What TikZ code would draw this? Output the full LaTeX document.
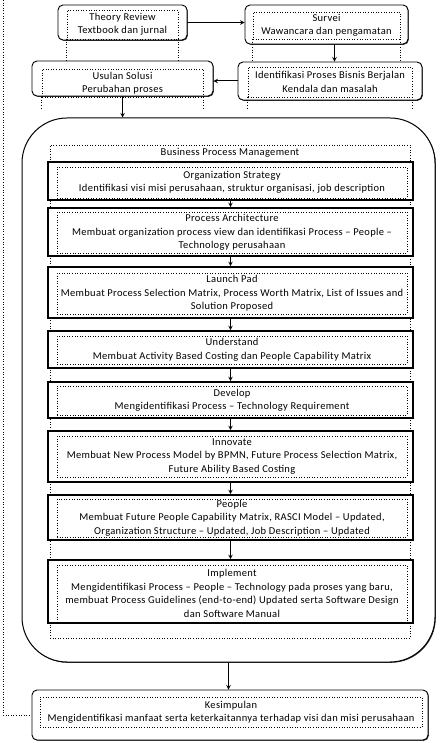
\documentclass[tikz,border=0pt]{standalone}
\usepackage{fontspec}
\setmainfont{Carlito}[LetterSpace=3]
\usetikzlibrary{calc,shadows}

\begin{document}
\begin{tikzpicture}[>=stealth, x=1pt, y=-1pt,
        font=\fontsize{10.5}{13.5}\selectfont,
        kotak/.style={draw, fill=white, rounded corners=5pt, line width=0.9pt, inner sep=0pt,
            drop shadow={shadow xshift=0.8pt, shadow yshift=-0.8pt, fill=black!80, opacity=1}},
        titik/.style={draw, dotted, line width=0.6pt, align=center, inner sep=1pt},
        tahap/.style={draw, fill=white, line width=1.6pt, minimum width=365pt, inner sep=0pt},
        panah/.style={->, line width=1pt}]
        \useasboundingbox (0,0) rectangle (442,743);

        % Baris atas
        \node[kotak, minimum width=129pt, minimum height=35pt] (trOut) at (122.5,22.5) {};
        \node[titik, minimum width=111pt, minimum height=29pt] (trIn) at (122.5,24.5) {Theory Review\\Textbook dan jurnal};
        \node[kotak, minimum width=163pt, minimum height=39pt] (svOut) at (326.5,24.5) {};
        \node[titik, minimum width=147pt, minimum height=27pt] (svIn) at (326.5,25.5) {Survei\\Wawancara dan pengamatan};
        \node[kotak, minimum width=184pt, minimum height=38pt] (idOut) at (330,81) {};
        \node[titik, minimum width=164pt, minimum height=30pt] (idIn) at (330,82) {Identifikasi Proses Bisnis Berjalan\\Kendala dan masalah};
        \node[kotak, minimum width=181pt, minimum height=35pt] (usOut) at (122.5,78.5) {};
        \node[titik, minimum width=161pt, minimum height=28pt] (usIn) at (122.5,83) {Usulan Solusi\\Perubahan proses};

        % Garis titik turun dari kotak dalam
        \draw[dotted, line width=0.6pt] (trIn.south west) -- ++(0,23);
        \draw[dotted, line width=0.6pt] (trIn.south east) -- ++(0,23);
        \draw[dotted, line width=0.6pt] (svIn.south west) -- ++(0,23);
        \draw[dotted, line width=0.6pt] (svIn.south east) -- ++(0,23);
        \draw[dotted, line width=0.6pt] (idIn.south west) -- ++(0,11);
        \draw[dotted, line width=0.6pt] (idIn.south east) -- ++(0,11);
        \draw[dotted, line width=0.6pt] (usIn.south west) -- ++(0,11);
        \draw[dotted, line width=0.6pt] (usIn.south east) -- ++(0,11);

        % Business Process Management
        \node[kotak, rounded corners=45pt, line width=1pt, minimum width=413pt, minimum height=544pt] (bpm) at (228.5,390) {};
        \node[titik, minimum width=360pt, minimum height=493pt] (bpmIn) at (230,391.5) {};
        \node (bpmJudul) at (230,153) {Business Process Management};

        % Tahapan
        \node[tahap, minimum height=38pt] (s1) at (230.5,181) {};
        \node[titik, minimum width=350pt, minimum height=31pt] (s1t) at (232,182.5)
            {Organization Strategy\\Identifikasi visi misi perusahaan, struktur organisasi, job description};
        \node[tahap, minimum height=48pt] (s2) at (230.5,232) {};
        \node[titik, minimum width=350pt, minimum height=41pt] (s2t) at (232,232.5)
            {Process Architecture\\Membuat organization process view dan identifikasi Process -- People --\\Technology perusahaan};
        \node[tahap, minimum height=51pt] (s3) at (230.5,292.5) {};
        \node[titik, minimum width=350pt, minimum height=41pt] (s3t) at (232,293.5)
            {Launch Pad\\Membuat Process Selection Matrix, Process Worth Matrix, List of Issues and\\Solution Proposed};
        \node[tahap, minimum height=37pt] (s4) at (230.5,349.5) {};
        \node[titik, minimum width=350pt, minimum height=28pt] (s4t) at (232,350)
            {Understand\\Membuat Activity Based Costing dan People Capability Matrix};
        \node[tahap, minimum height=36pt] (s5) at (230.5,400) {};
        \node[titik, minimum width=350pt, minimum height=29pt] (s5t) at (232,400.5)
            {Develop\\Mengidentifikasi Process -- Technology Requirement};
        \node[tahap, minimum height=51pt] (s6) at (230.5,456.5) {};
        \node[titik, minimum width=350pt, minimum height=41pt] (s6t) at (232,456.5)
            {Innovate\\Membuat New Process Model by BPMN, Future Process Selection Matrix,\\Future Ability Based Costing};
        \node[tahap, minimum height=45pt] (s7) at (230.5,517.5) {};
        \node[titik, minimum width=350pt, minimum height=38pt] (s7t) at (232,518)
            {People\\Membuat Future People Capability Matrix, RASCI Model -- Updated,\\Organization Structure -- Updated, Job Description -- Updated};
        \node[tahap, minimum height=63pt] (s8) at (230.5,591.5) {};
        \node[titik, minimum width=350pt, minimum height=57pt] (s8t) at (232,593.5)
            {Implement\\Mengidentifikasi Process -- People -- Technology pada proses yang baru,\\membuat Process Guidelines (end-to-end) Updated serta Software Design\\dan Software Manual};

        % Kesimpulan
        \node[kotak, minimum width=396pt, minimum height=50pt] (kesOut) at (230,715) {};
        \node[titik, minimum width=382pt, minimum height=30pt] (kesIn) at (231,712)
            {Kesimpulan\\Mengidentifikasi manfaat serta keterkaitannya terhadap visi dan misi perusahaan};

        % Panah
        \coordinate (svBawah) at ($(svOut.south)+(8,0)$);
        \draw[panah] (trOut.east) -- (trOut.east -| svOut.west);
        \draw[panah] (svBawah) -- (svBawah |- idOut.north);
        \draw[panah] (idOut.west) -- (idOut.west -| usOut.east);
        \draw[panah] (usOut.south) -- (usOut.south |- bpm.north);
        \draw[panah] (s1) -- (s2);
        \draw[panah] (s2) -- (s3);
        \draw[panah] (s3) -- (s4);
        \draw[panah] (s4) -- (s5);
        \draw[panah] (s5) -- (s6);
        \draw[panah] (s6) -- (s7);
        \draw[panah] (s7) -- (s8);
        \draw[panah] (bpm.south) -- (bpm.south |- kesOut.north);

        % Garis balik di kiri
        \coordinate (balikAtas) at (3,0);
        \draw[dotted, line width=0.6pt] (balikAtas) |- (kesOut.west);
    \end{tikzpicture}
\end{document}
